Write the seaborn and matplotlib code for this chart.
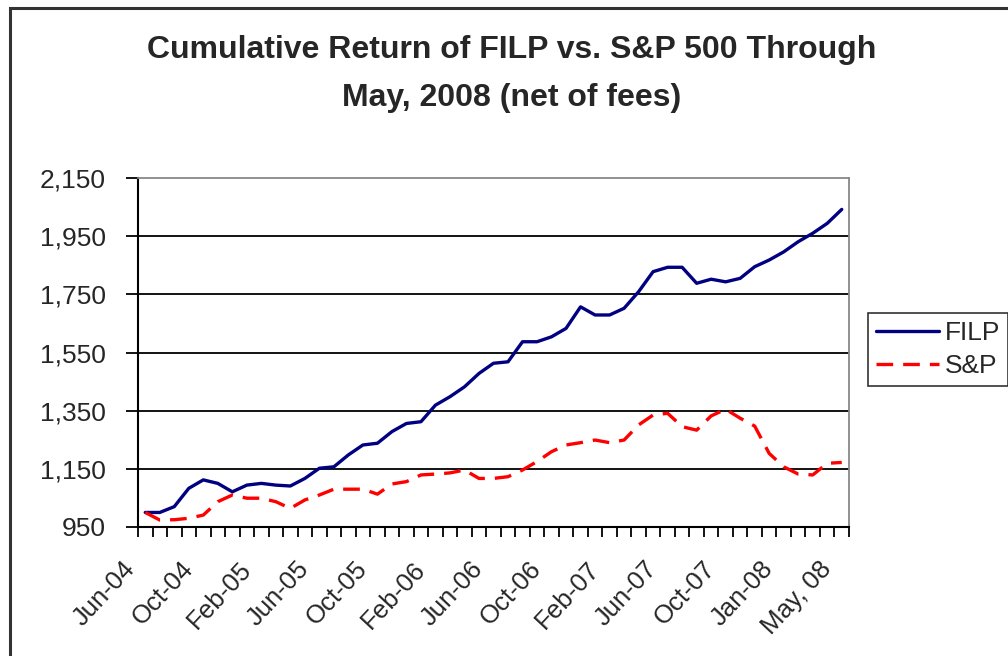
import numpy as np
import pandas as pd
import matplotlib
matplotlib.use("Agg")
from matplotlib import pyplot as plt
from matplotlib.patches import Rectangle
from matplotlib.transforms import ScaledTranslation
import seaborn as sns

sns.set_style("white")
plt.rcParams['font.family'] = ['Liberation Sans', 'DejaVu Sans']

# values (49 monthly points, Jun-04 .. May-08)
filp = [1000, 1000, 1020, 1083, 1112, 1100, 1071, 1094, 1100, 1094,
        1091, 1117, 1152, 1157, 1198, 1232, 1238, 1278, 1306, 1312,
        1369, 1398, 1432, 1478, 1513, 1518, 1587, 1587, 1604, 1633,
        1707, 1679, 1679, 1702, 1759, 1828, 1843, 1843, 1788, 1802,
        1793, 1805, 1845, 1868, 1896, 1931, 1960, 1994, 2042]
sp500 = [1000, 974, 975, 980, 991, 1037, 1060, 1049, 1049, 1037,
         1014, 1043, 1060, 1080, 1080, 1080, 1063, 1098, 1106, 1129,
         1132, 1136, 1146, 1117, 1117, 1123, 1146, 1175, 1209, 1232,
         1240, 1249, 1240, 1249, 1301, 1335, 1341, 1295, 1283, 1332,
         1355, 1324, 1297, 1203, 1157, 1132, 1129, 1169, 1172]
tick_pos = [0, 4, 8, 12, 16, 20, 24, 28, 32, 36, 40, 44, 48]
tick_labels = ['Jun-04', 'Oct-04', 'Feb-05', 'Jun-05', 'Oct-05', 'Feb-06', 'Jun-06',
               'Oct-06', 'Feb-07', 'Jun-07', 'Oct-07', 'Jan-08', 'May, 08']
y_ticks = [950, 1150, 1350, 1550, 1750, 1950, 2150]

df = pd.DataFrame({'idx': np.arange(len(filp)), 'FILP': filp, 'S&P': sp500})

fig = plt.figure(figsize=(10.08, 6.56), dpi=100)
ax = fig.add_axes([138/1008, 1 - 527/656, (849-138)/1008, (527-178)/656])

sns.lineplot(data=df, x='idx', y='FILP', ax=ax, color='#000080', lw=2.4, label='FILP')
sns.lineplot(data=df, x='idx', y='S&P', ax=ax, color='#FF0000', lw=2.4,
             dashes=False, label='S&P')
ax.lines[1].set_dashes([5, 3])

ax.set_xlim(-0.5, len(filp) - 0.5)
ax.set_ylim(950, 2150)
ax.set_yticks(y_ticks)
ax.set_yticklabels([f'{v:,}' for v in y_ticks], fontsize=19)

# category labels sit a little left of / below their category, as in Excel
ax.set_xticks(tick_pos)
ax.set_xticklabels([''] * len(tick_pos))
offset = ScaledTranslation(-23/100, -30/100, fig.dpi_scale_trans)
for p, lab in zip(tick_pos, tick_labels):
    ax.text(p, 0, lab, transform=ax.get_xaxis_transform() + offset, rotation=47,
            ha='right', va='top', rotation_mode='anchor', fontsize=18.5)

ax.set_xticks(np.arange(-0.5, len(filp)), minor=True)
ax.tick_params(axis='x', which='major', length=0)
ax.tick_params(axis='x', which='minor', length=7, width=1.3, color='black', direction='out', bottom=True)
ax.tick_params(axis='y', length=9, width=1.3, color='black', direction='out', left=True, pad=14)
ax.set_xlabel('')
ax.set_ylabel('')

for v in y_ticks[1:-1]:
    ax.axhline(v, color='black', lw=1.3, zorder=0)
ax.spines['left'].set_color('black')
ax.spines['bottom'].set_color('black')
ax.spines['left'].set_linewidth(1.5)
ax.spines['bottom'].set_linewidth(1.5)
ax.spines['top'].set_color('#888888')
ax.spines['right'].set_color('#888888')
ax.spines['top'].set_linewidth(1.3)
ax.spines['right'].set_linewidth(1.3)

ax.legend_.remove()
handles, labels = ax.get_legend_handles_labels()
leg = fig.legend(handles, labels, loc='upper left', bbox_to_anchor=(868/1008, 1 - 313/656),
                 fontsize=19, frameon=True, fancybox=False, handlelength=2.4,
                 handletextpad=0.2, borderpad=0.3, labelspacing=0.35, borderaxespad=0)
leg.get_frame().set_edgecolor('black')
leg.get_frame().set_linewidth(1.2)

fig.text(512/1008, 1 - 50/656, 'Cumulative Return of FILP vs. S&P 500 Through',
         ha='center', va='center', fontsize=23, fontweight='bold')
fig.text(512/1008, 1 - 98/656, 'May, 2008 (net of fees)',
         ha='center', va='center', fontsize=23, fontweight='bold')

fig.patches.append(Rectangle((10/1008, -0.1), 1.2, 1 - 8/656 + 0.1, transform=fig.transFigure,
                             fill=False, edgecolor='#333333', lw=2.2))

fig.savefig('out.png', dpi=100)
